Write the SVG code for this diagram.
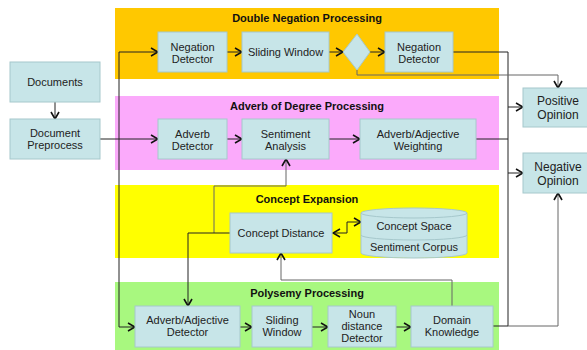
<svg xmlns="http://www.w3.org/2000/svg" width="587" height="350" viewBox="0 0 587 350">
  <style>
    .band-title { font-family: "Liberation Sans", Arial, sans-serif; font-size: 11px; font-weight: bold; fill: #111; text-anchor: middle; }
    .node rect, .node path.shape, .node polygon { fill: #C7E5E8; stroke: #A6C8CC; stroke-width: 1; }
    .node text { font-family: "Liberation Sans", Arial, sans-serif; font-size: 11px; fill: #222; text-anchor: middle; }
    .node text.big { font-size: 12px; }
    .edge { fill: none; stroke: #222; stroke-width: 1; }
    .edge.soft { stroke: #666; }
  </style>
  <defs>
    <marker id="arrow" viewBox="0 0 10 10" refX="9" refY="5" markerWidth="10" markerHeight="10" markerUnits="userSpaceOnUse" orient="auto-start-reverse">
      <path d="M2,1 L9,5 L2,9" fill="none" stroke="#111" stroke-width="1.6"/>
    </marker>
  </defs>

  <rect width="587" height="350" fill="#FFFFFF"/>

  <!-- processing bands -->
  <g id="bands">
    <rect x="115" y="8" width="384" height="71" fill="#FFC800"/>
    <text class="band-title" x="307" y="22">Double Negation Processing</text>
    <rect x="115" y="96" width="384" height="74" fill="#FBAAFB"/>
    <text class="band-title" x="307" y="110">Adverb of Degree Processing</text>
    <rect x="115" y="185" width="384" height="73" fill="#FFFF00"/>
    <text class="band-title" x="307" y="203">Concept Expansion</text>
    <rect x="115" y="282" width="384" height="68" fill="#A8F87F"/>
    <text class="band-title" x="307" y="297">Polysemy Processing</text>
  </g>

  <!-- connectors -->
  <g id="connectors">
    <path class="edge" d="M55,102 V119" marker-end="url(#arrow)"/>
    <path class="edge" d="M100,139 H158" marker-end="url(#arrow)"/>
    <path class="edge" d="M119,139 V52 H158" marker-end="url(#arrow)"/>
    <path class="edge" d="M119,139 V327 H135" marker-end="url(#arrow)"/>
    <path class="edge" d="M227,52 H242" marker-end="url(#arrow)"/>
    <path class="edge" d="M329,52 H343" marker-end="url(#arrow)"/>
    <path class="edge" d="M370,52 H385" marker-end="url(#arrow)"/>
    <path class="edge" d="M453,52 H508 V326" />
    <path class="edge" d="M508,107 H523" marker-end="url(#arrow)"/>
    <path class="edge" d="M508,173 H523" marker-end="url(#arrow)"/>
    <path class="edge" d="M476,139 H508"/>
    <path class="edge soft" d="M357,70 V75 H558 V88" marker-end="url(#arrow)"/>
    <path class="edge" d="M227,139 H242" marker-end="url(#arrow)"/>
    <path class="edge" d="M329,139 H360" marker-end="url(#arrow)"/>
    <path class="edge soft" d="M214,233 V186 H286 V159" marker-end="url(#arrow)"/>
    <path class="edge" d="M230,233 H188 V306" marker-end="url(#arrow)"/>
    <path class="edge soft" d="M452,306 V280 H281 V253" marker-end="url(#arrow)"/>
    <path class="edge" d="M333,233 H347 V222 H361" marker-start="url(#arrow)" marker-end="url(#arrow)"/>
    <path class="edge" d="M240,327 H252" marker-end="url(#arrow)"/>
    <path class="edge" d="M312,327 H328" marker-end="url(#arrow)"/>
    <path class="edge" d="M396,327 H411" marker-end="url(#arrow)"/>
    <path class="edge" d="M493,326 H508"/>
    <path class="edge soft" d="M508,326 H558 V193" marker-end="url(#arrow)"/>
  </g>

  <!-- nodes -->
  <g id="documents" class="node">
    <rect x="10" y="62" width="90" height="40"/>
    <text x="55" y="86">Documents</text>
  </g>
  <g id="document-preprocess" class="node">
    <rect x="10" y="119" width="90" height="40"/>
    <text x="55" y="137">Document</text>
    <text x="55" y="149">Preprocess</text>
  </g>
  <g id="negation-detector-1" class="node">
    <rect x="158" y="32" width="69" height="40"/>
    <text x="192.5" y="51">Negation</text>
    <text x="192.5" y="63">Detector</text>
  </g>
  <g id="sliding-window-1" class="node">
    <rect x="242" y="32" width="87" height="40"/>
    <text x="285.5" y="56">Sliding Window</text>
  </g>
  <g id="decision" class="node">
    <polygon points="357,34 370,52 357,70 343,52"/>
  </g>
  <g id="negation-detector-2" class="node">
    <rect x="385" y="32" width="68" height="40"/>
    <text x="419" y="51">Negation</text>
    <text x="419" y="63">Detector</text>
  </g>
  <g id="adverb-detector" class="node">
    <rect x="158" y="119" width="69" height="40"/>
    <text x="192.5" y="138">Adverb</text>
    <text x="192.5" y="150">Detector</text>
  </g>
  <g id="sentiment-analysis" class="node">
    <rect x="242" y="119" width="87" height="40"/>
    <text x="285.5" y="138">Sentiment</text>
    <text x="285.5" y="150">Analysis</text>
  </g>
  <g id="weighting" class="node">
    <rect x="360" y="119" width="116" height="40"/>
    <text x="418" y="138">Adverb/Adjective</text>
    <text x="418" y="150">Weighting</text>
  </g>
  <g id="positive-opinion" class="node">
    <rect x="523" y="88" width="70" height="39"/>
    <text class="big" x="558" y="105">Positive</text>
    <text class="big" x="558" y="119">Opinion</text>
  </g>
  <g id="negative-opinion" class="node">
    <rect x="523" y="153" width="70" height="40"/>
    <text class="big" x="558" y="171">Negative</text>
    <text class="big" x="558" y="185">Opinion</text>
  </g>
  <g id="concept-distance" class="node">
    <rect x="230" y="213" width="102" height="40"/>
    <text x="281" y="237">Concept Distance</text>
  </g>
  <g id="corpus" class="node">
    <path class="shape" d="M361,213 A53,5 0 0 1 467,213 V253 A53,5 0 0 1 361,253 Z"/>
    <path d="M361,213 A53,5 0 0 0 467,213" fill="none" stroke="#A6C8CC"/>
    <path d="M361,235 A53,5 0 0 0 467,235" fill="none" stroke="#A6C8CC"/>
    <text x="414" y="230">Concept Space</text>
    <text x="414" y="251">Sentiment Corpus</text>
  </g>
  <g id="adj-detector" class="node">
    <rect x="135" y="306" width="105" height="41"/>
    <text x="187.5" y="324">Adverb/Adjective</text>
    <text x="187.5" y="336">Detector</text>
  </g>
  <g id="sliding-window-2" class="node">
    <rect x="252" y="306" width="60" height="41"/>
    <text x="282" y="324">Sliding</text>
    <text x="282" y="336">Window</text>
  </g>
  <g id="noun-distance" class="node">
    <rect x="328" y="306" width="68" height="41"/>
    <text x="362" y="318">Noun</text>
    <text x="362" y="330">distance</text>
    <text x="362" y="342">Detector</text>
  </g>
  <g id="domain-knowledge" class="node">
    <rect x="411" y="306" width="82" height="41"/>
    <text x="452" y="324">Domain</text>
    <text x="452" y="336">Knowledge</text>
  </g>
</svg>
